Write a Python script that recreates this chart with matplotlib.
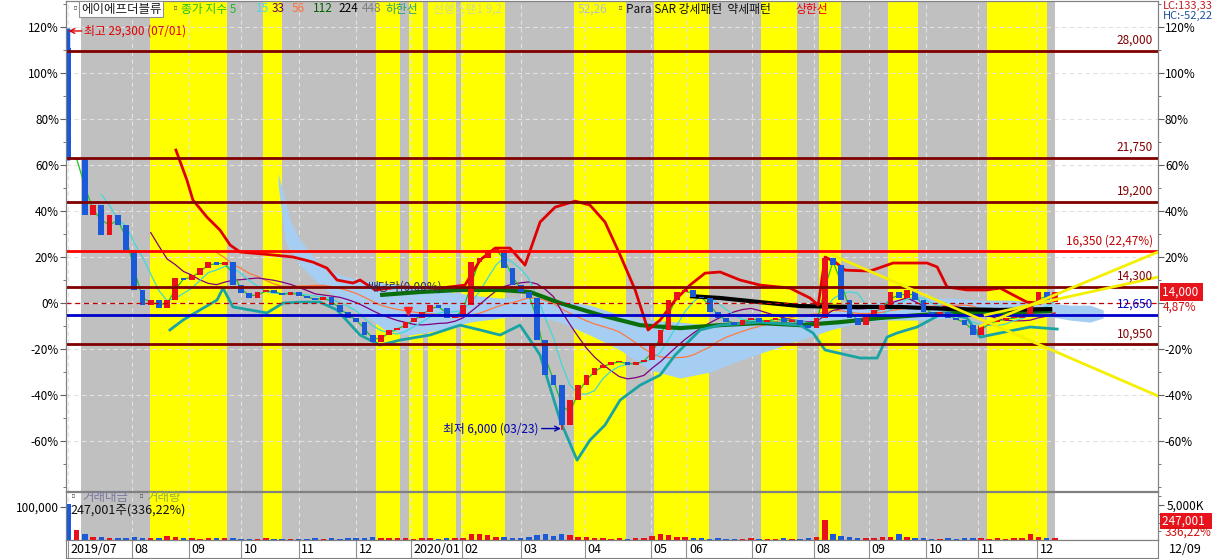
import numpy as np
import pandas as pd
import matplotlib
matplotlib.use("Agg")
import matplotlib.pyplot as plt
from matplotlib.transforms import blended_transform_factory

plt.rcParams['font.family'] = ['Noto Sans CJK KR', 'DejaVu Sans']
plt.rcParams['axes.unicode_minus'] = False

# ---------------- data ----------------
BASE = 13350  # reference price for 0%

day_idx = list(range(0, 361, 3))
close = [21650, 21770, 18450, 19040, 17300, 18450, 17880, 16430, 14100, 13230,
         13520, 13060, 13520, 14800, 14690, 14980, 15380, 15730, 15560, 15730,
         14400, 13930, 13640, 13990, 14100, 13930, 13810, 13990, 13760, 13640,
         13520, 13700, 13230, 12830, 12480, 12250, 11490, 11090, 11490, 11780,
         11900, 12250, 12480, 12830, 13230, 13060, 12480, 12650, 13230, 15730,
         15960, 16430, 16430, 15380, 14400, 13990, 13640, 11200, 9170, 8590,
         6270, 7720, 8590, 9170, 9580, 9750, 9930, 9930, 9750, 9930,
         10040, 10910, 11780, 13520, 13990, 14100, 13700, 13640, 12830, 12480,
         12250, 12070, 12360, 12480, 12250, 12360, 12480, 12250, 12360, 12070,
         11900, 12480, 15960, 15560, 13520, 12480, 12070, 12650, 12940, 13230,
         13990, 13640, 14100, 13520, 12830, 12650, 12830, 12480, 12360, 12070,
         11490, 12070, 12250, 12360, 12480, 12480, 12650, 13230, 13990, 13410,
         14000]
open_first = 28150
high_point = (0, 29300)
low_point = (180, 6000)

volume_k = [5200, 1500, 900, 500, 450, 300, 350, 300, 400, 350,
            250, 300, 600, 400, 300, 250, 200, 250, 300, 250,
            300, 200, 150, 200, 300, 200, 150, 200, 150, 200,
            250, 200, 300, 200, 250, 300, 350, 400, 300, 250,
            300, 250, 200, 250, 300, 200, 250, 300, 350, 800,
            900, 700, 500, 400, 300, 350, 400, 700, 800, 600,
            900, 700, 500, 400, 300, 250, 200, 250, 200, 300,
            350, 600, 800, 700, 500, 400, 300, 250, 200, 250,
            200, 150, 200, 250, 200, 150, 200, 250, 200, 200,
            250, 400, 2900, 900, 600, 400, 300, 250, 300, 400,
            500, 900, 400, 300, 250, 200, 200, 250, 200, 250,
            300, 250, 200, 250, 200, 250, 300, 900, 500, 300,
            250]

month_pos = [0, 23, 44, 63, 84, 105, 125, 143.5, 165, 188.5, 212.5, 225.5,
             249.5, 272, 292, 313, 332, 353.5]
month_labels = ['2019/07', '08', '09', '10', '11', '12', '2020/01', '02', '03',
                '04', '05', '06', '07', '08', '09', '10', '11', '12']

band_edges = [4.6, 29.6, 57.8, 70.8, 77.9, 112.2, 120.9, 124.2, 129.3, 131.2,
              141.4, 143.1, 159.3, 184.5, 203.5, 213.7, 233.8, 252.8, 265.9,
              273.9, 282.0, 299.1, 310.1, 335.3, 357.2, 360.1]
band_kinds = ['g', 'y', 'g', 'y', 'g', 'y', 'g', 'y', 'g', 'y', 'g', 'y', 'g',
              'y', 'g', 'y', 'g', 'y', 'g', 'y', 'g', 'y', 'g', 'y', 'g']

level_prices = [28000, 21750, 19200, 16350, 14300, 12650, 10950]
level_labels = ['28,000', '21,750', '19,200', '16,350 (22,47%)', '14,300', '12,650', '10,950']
level_colors = ['#800000', '#800000', '#800000', '#ff0000', '#800000', '#0000c8', '#800000']

upper_x = [39.2, 43.2, 45.4, 50.5, 55.3, 59.0, 62.6, 74.6, 82, 89.2, 94.3, 98, 103.8,
           106.4, 111.9, 121, 135.6, 144.7, 150.2, 155.7, 161.1, 166.6, 172.1, 177.6,
           184.9, 190.3, 195.8, 201.3, 206.8, 211.5, 215.9, 221.4, 226.8, 232.3,
           237.8, 245.1, 252.4, 263.3, 270.6, 273.6, 276.1, 279.8, 283.4, 292.5,
           300.9, 313.3, 317, 320.6, 327.9, 335.2, 340, 346.2, 349.8, 354.6, 359.3]
upper_pct = [66.5, 53.5, 44.8, 37.4, 31.7, 25.2, 22.2, 20.9, 20, 17.8, 15.2, 10, 8.7,
             10, 5.7, 7, 6.5, 7.8, 18.7, 23.9, 23.9, 16.5, 35.2, 41.7,
             44.3, 42.6, 35.2, 20.9, 5.7, -11.7, -7.4, 1.3, 7.8, 13,
             13.5, 10, 7.8, 6.5, 2.2, -0.9, 20, 17.8, 14.3, 13.9,
             17.4, 17.4, 15.7, 7, 5.7, 5.7, 6.5, 2.6, 0.4, 0, 3.5]

lower_x = [37, 41.8, 48, 54.2, 56.4, 60, 66.2, 72.4, 78.3, 84.5, 91.8, 98, 106.4,
           113.7, 121, 131.9, 142.9, 150.2, 157.5, 164.8, 172.1, 179.4, 185.6,
           190.3, 195.8, 201.3, 208.6, 215.9, 221.4, 230.5, 237.8, 252.4, 267,
           271.7, 276.1, 288.9, 295.1, 298.7, 302.4, 309.7, 319.2, 327.9, 332.7,
           340, 350.9, 360.8]
lower_pct = [-11.7, -7.4, -3, 1.3, 6.5, -1.7, -3, -4.3, 0, 0.4, 0.4, -3, -13.9,
             -18.3, -16.1, -13.9, -9.6, -11.7, -13.9, -9.6, -22.6, -50.9, -68.3,
             -59.6, -53, -42.2, -35.7, -31.3, -22.6, -11.7, -9.6, -8.3, -9.6,
             -13, -20.4, -23.9, -23.9, -14.8, -13, -10.4, -4.3, -6.5, -14.8,
             -13, -10.4, -11.3]

cloud_x = [76.5, 79, 80.8, 84.5, 91.8, 99.1, 106.4, 115.5, 124.6, 135.6, 146.5,
           157.5, 168.4, 179.4, 190.3, 201.3, 212.2, 223.2, 234.1, 245.1, 256,
           267, 278, 288.9, 299.8, 310.8, 321.7, 332.7, 343.6, 354.6, 365.5,
           372.8, 377.6]
cloud_top = [56.5, 44.8, 36.1, 27.4, 16.5, 12.2, 10, 8.7, 7.8, 5.7, 3.5, 2.2, 2.2,
             1.3, -0.9, -5.2, -7.4, -8.3, -9.6, -9.6, -8.3, -6.5, -3.9, -0.9, 1.3,
             2.2, 2.2, 1.3, 1.3, 0.4, -0.9, -0.9, -3]
cloud_bot = [51.3, 27.4, 23, 16.5, 7.8, 1.3, -3.9, -11.7, -13.9, -11.7, -8.3, -6.5,
             -5.2, -8.3, -13.9, -20.4, -29.1, -32.6, -30, -24.8, -20.4, -16.1,
             -11.7, -8.3, -7.4, -7.4, -6.5, -5.2, -3.9, -5.2, -7.4, -8.3, -6.5]

ma112_x = [113.7, 128.3, 142.9, 157.5, 168.4, 179.4, 194, 208.6, 223.2, 237.8,
           252.4, 267, 281.6, 296.2, 310.8, 325.4, 340, 359]
ma112_pct = [3.5, 4.8, 5.7, 5.7, 4.8, 0, -5.2, -9.6, -10.9, -9.6, -8.7, -9.6,
             -8.3, -6.5, -5.2, -4.3, -4.3, -3.5]

ma224_x = [226.8, 237.8, 252.4, 267, 285.2, 303.5, 321.7, 340, 359]
ma224_pct = [3, 2.2, 0.4, -1.3, -1.7, -1.7, -2.6, -3, -2.6]

trend_lines = [((278.7, 20.9), (397.6, -40.4)),
               ((332.7, -10.0), (397.6, 22.2)),
               ((334.5, -5.2), (397.6, 11.3))]

# ---------------- helpers ----------------
W, H = 1221, 559
XLIM = (-0.91, 397.6)
YLIM = (-81.7, 131.3)


def pct(p):
    return (np.asarray(p, dtype=float) / BASE - 1.0) * 100.0


def rect(x0, y0, x1, y1):
    return [x0 / W, 1 - y1 / H, (x1 - x0) / W, (y1 - y0) / H]


def ftext(x, y, s, **kw):
    kw.setdefault('va', 'center')
    return fig.text(x / W, 1 - y / H, s, **kw)


RED = '#e8101a'
BLUE = '#1a5ad8'

fig = plt.figure(figsize=(12.21, 5.59), dpi=100)
fig.patch.set_facecolor('white')
ax = fig.add_axes(rect(66, 1, 1158, 491))
vax = fig.add_axes(rect(66, 492, 1158, 540), sharex=ax)
dax = fig.add_axes(rect(66, 540, 1158, 558), sharex=ax)

# background bands
for a in (ax, vax):
    for s, e, k in zip(band_edges[:-1], band_edges[1:], band_kinds):
        a.axvspan(s, e, color='#c0c0c0' if k == 'g' else '#ffff00', lw=0, zorder=0)
    for m in month_pos:
        a.axvline(m, color='#e2e2e2', lw=0.8, ls=(0, (4, 3)), zorder=1)

ax.set_xlim(*XLIM)
ax.set_ylim(*YLIM)
yt = list(range(-60, 121, 20))
for v in yt:
    ax.axhline(v, color='#e2e2e2', lw=0.8, ls=(0, (4, 3)), zorder=1)

# cloud
ax.fill_between(cloud_x, cloud_top, cloud_bot, color='#a6cdf2', lw=0, zorder=2)

# moving averages from closes
cp = pd.Series(pct(close))
xs = np.array(day_idx, dtype=float)
for win, col in [(19, '#ff7a40'), (11, '#800080'), (5, '#40d8d8'), (2, '#20c020')]:
    ax.plot(xs, cp.rolling(win).mean(), color=col, lw=0.9, zorder=3)

ax.plot(ma112_x, ma112_pct, color='#0a6e0a', lw=3.0, zorder=3, solid_capstyle='butt')
ax.plot(ma224_x, ma224_pct, color='#000000', lw=3.0, zorder=3, solid_capstyle='butt')
ax.plot(upper_x, upper_pct, color='#e00000', lw=2.0, zorder=3)
ax.plot(lower_x, lower_pct, color='#1aa3a3', lw=2.0, zorder=3)

# candles
opens = [open_first] + close[:-1]
o_p = pct(opens)
c_p = pct(close)
cols = [RED if c >= o else BLUE for o, c in zip(opens, close)]
bottoms = np.minimum(o_p, c_p)
heights = np.maximum(np.abs(c_p - o_p), 0.5)
ax.bar(xs, heights, bottom=bottoms, width=2.1, color=cols, lw=0, zorder=4)
ax.vlines([high_point[0]], pct(close[0]), pct(high_point[1]), color=BLUE, lw=2.5, zorder=4)
ax.vlines([low_point[0]], pct(low_point[1]), pct(close[60]), color=RED, lw=1.2, zorder=4)

# level lines
for p, lab, col in zip(level_prices, level_labels, level_colors):
    ax.axhline(pct(p), color=col, lw=2.0, zorder=6)
    ax.annotate(lab, xy=(0.9955, pct(p)),
                xycoords=blended_transform_factory(ax.transAxes, ax.transData),
                xytext=(0, 3), textcoords='offset points', ha='right', va='bottom',
                fontsize=8.5, color=col if col != '#ff0000' else '#c00000', zorder=8)
ax.axhline(0, color='#c00000', lw=0.9, ls=(0, (4, 3)), zorder=5)

# trend lines
for (x0, y0), (x1, y1) in trend_lines:
    ax.plot([x0, x1], [y0, y1], color='#f5f000', lw=2.0, zorder=7)

# annotations
ax.annotate('최고 29,300 (07/01)', xy=(high_point[0], pct(high_point[1]) - 1.2),
            xytext=(16, 0), textcoords='offset pixels', ha='left', va='center',
            fontsize=8.5, color='#e00000', zorder=9,
            arrowprops=dict(arrowstyle='->', color='#e00000', lw=1.0, shrinkA=0, shrinkB=0))
ax.annotate('최저 6,000 (03/23)', xy=(low_point[0] - 0.3, pct(low_point[1]) + 0.5),
            xytext=(-22, 0), textcoords='offset pixels', ha='right', va='center',
            fontsize=8.5, color='#0000b0', zorder=9,
            arrowprops=dict(arrowstyle='->', color='#0000b0', lw=1.0, shrinkA=0, shrinkB=0))
ax.text(109, 7.0, '배당락(0.00%)', fontsize=8.5, color='#303050', va='center', zorder=9)
ax.plot([124], [-3.5], marker='v', color='#ff2020', ms=6, zorder=9)

# axes styling (main)
ax.set_yticks(yt)
ax.set_yticklabels([f'{v}%' for v in yt])
ax.set_yticks(list(range(-80, 131, 10)), minor=True)
ax.tick_params(axis='y', labelsize=8.5, length=4, pad=1, color='#606060')
ax.tick_params(axis='y', which='minor', length=2, color='#606060')
ax.tick_params(axis='x', bottom=False, labelbottom=False)
ax2 = ax.twinx()
ax2.set_ylim(*YLIM)
ax2.set_yticks(yt)
ax2.set_yticklabels(['' if v == 0 else f'{v}%' for v in yt])
ax2.set_yticks(list(range(-80, 131, 10)), minor=True)
ax2.tick_params(axis='y', labelsize=8.5, length=4, pad=1, color='#606060')
ax2.tick_params(axis='y', which='minor', length=2, color='#606060')
for a in (ax, ax2):
    for sp in a.spines.values():
        sp.set_color('#808080')
        sp.set_linewidth(0.8)

# volume panel
vax.bar(xs, volume_k, width=2.0, color=cols, lw=0, zorder=3)
vax.set_ylim(0, 6860)
aax = vax.twinx()
aax.set_ylim(0, 145455)
aax.yaxis.tick_left()
aax.set_yticks([100000])
aax.set_yticklabels(['100,000'])
aax.tick_params(axis='y', labelsize=8.5, length=4, pad=1, color='#606060')
vax.yaxis.tick_right()
vax.set_yticks([5000])
vax.set_yticklabels(['5,000K'])
vax.set_yticks([1250, 2500, 3750, 6250], minor=True)
vax.tick_params(axis='y', labelsize=8.5, length=4, pad=2, color='#606060')
vax.tick_params(axis='y', which='minor', length=2, color='#606060')
vax.tick_params(axis='x', bottom=False, labelbottom=False)
for a in (vax, aax):
    for sp in a.spines.values():
        sp.set_color('#808080')
        sp.set_linewidth(0.8)

# date band
dax.set_ylim(0, 1)
dax.set_yticks([])
dax.tick_params(axis='x', bottom=False, labelbottom=False)
for sp in dax.spines.values():
    sp.set_color('#808080')
    sp.set_linewidth(0.8)
tr = blended_transform_factory(dax.transData, dax.transAxes)
for m, lab in zip(month_pos, month_labels):
    dax.axvline(m, color='#909090', lw=0.8)
    dax.text(m + 0.9, 0.45, lab, transform=tr, fontsize=9, va='center', ha='left')
dax.text(1.01, 0.45, '12/09', transform=dax.transAxes, fontsize=9, va='center',
         ha='left', clip_on=False)

# top legend
ftext(70, 9, '▫', fontsize=8, color='#606060')
ftext(81, 9, '에이에프더블류', fontsize=9, color='#202020',
      bbox=dict(boxstyle='square,pad=0.15', fc='white', ec='#909090', lw=0.8))
ftext(170, 9, '▫', fontsize=8, color='#606060')
legend_items = [(181, '종가 지수 5', '#22bb22'), (256, '15', '#55d5d5'), (272, '33', '#600060'),
                (292, '56', '#ff7040'), (313, '112', '#006000'), (338, '224', '#000000'),
                (362, '448', '#808080'), (386, '하한선', '#2aa070'), (433, '선행스팬1 9,2', '#d0dc90'),
                (578, '52,26', '#b0c0d0'), (626, 'Para SAR 강세패턴  약세패턴', '#101010'),
                (795, '상한선', '#ee0000')]
for x, s, c in legend_items:
    ftext(x, 9, s, fontsize=8.5, color=c)
ftext(615, 9, '▫', fontsize=8, color='#606060')

# right-side info
ftext(1163, 6, 'LC:133,33', fontsize=8, color='#c02020')
ftext(1163, 16, 'HC:-52,22', fontsize=8, color='#2050a0')
ftext(1162, 292, '14,000 ', fontsize=8.5, color='white',
      bbox=dict(boxstyle='square,pad=0.2', fc='#e8141c', ec='none'))
ftext(1163, 307, '4,87%', fontsize=8.5, color='#d01010')
ftext(1162, 521, '247,001  ', fontsize=8.5, color='white',
      bbox=dict(boxstyle='square,pad=0.15', fc='#e8141c', ec='none'))
ftext(1165, 532, '336,22%', fontsize=8.5, color='#d01010')

# volume legend
ftext(68, 497, '▫', fontsize=8, color='#606060')
ftext(82, 497, '거래대금', fontsize=9, color='#7a7aa0')
ftext(136, 497, '▫', fontsize=8, color='#606060')
ftext(146, 497, '거래량', fontsize=9, color='#98b040')
ftext(70, 510, '247,001주(336,22%)', fontsize=9, color='#101010')

fig.savefig('out.png', dpi=100)
